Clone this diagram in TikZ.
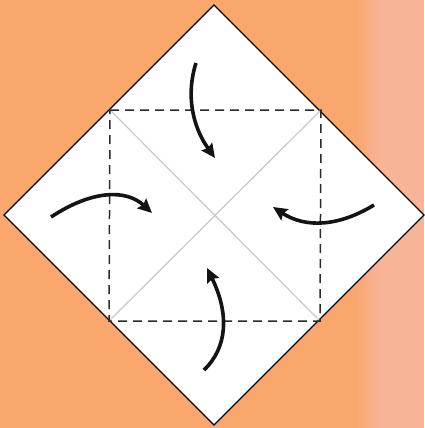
\documentclass[tikz,border=0pt]{standalone}
\usetikzlibrary{arrows.meta}
\definecolor{bgorange}{HTML}{F9A76D}
\definecolor{bgpink}{HTML}{F8B496}
\definecolor{creasegray}{HTML}{C8C8C8}
\definecolor{dashgray}{HTML}{2A2A2A}
\tikzset{
  paperedge/.style={draw=black, line width=1.4pt, fill=white, line join=miter},
  valley/.style={draw=dashgray, line width=1.5pt, dash pattern=on 9pt off 6pt},
  crease/.style={draw=creasegray, line width=1.2pt},
  foldarrow/.style={draw=black!92, line width=3.6pt, -{Stealth[length=14pt,width=13pt,inset=2pt]}},
}
\begin{document}
\begin{tikzpicture}[x=1pt,y=-1pt]
\useasboundingbox (0,0) rectangle (424,428);
\fill[bgorange] (0,0) rectangle (356,428);
\shade[left color=bgorange, right color=bgpink] (355.5,0) rectangle (380,428);
\fill[bgpink] (379.5,0) rectangle (424,428);
% diamond
\coordinate (T) at (214,5);
\coordinate (R) at (424,215);
\coordinate (B) at (214,425);
\coordinate (L) at (4,215);
\path[paperedge] (T) -- (R) -- (B) -- (L) -- cycle;
% square corners
\coordinate (q1) at (110,110);
\coordinate (q2) at (321,110);
\coordinate (q3) at (320,321);
\coordinate (q4) at (109,321);
\draw[crease] (q1) -- (q3);
\draw[crease] (q2) -- (q4);
\draw[valley] (q1) -- (q2) -- (q3) -- (q4) -- cycle;
% arrows
\coordinate (a1s) at (196,63);  \coordinate (a1e) at (215,158);
\coordinate (a2s) at (51,217);  \coordinate (a2e) at (152,213);
\coordinate (a3s) at (374,205); \coordinate (a3e) at (273,207);
\coordinate (a4s) at (204,370); \coordinate (a4e) at (207,268);
\draw[foldarrow] (a1s) .. controls (186,94) and (192,126) .. (a1e);
\draw[foldarrow] (a2s) .. controls (92,190) and (126,189) .. (a2e);
\draw[foldarrow] (a3s) .. controls (338,227) and (305,228) .. (a3e);
\draw[foldarrow] (a4s) .. controls (228,347) and (229,313) .. (a4e);
\end{tikzpicture}
\end{document}
